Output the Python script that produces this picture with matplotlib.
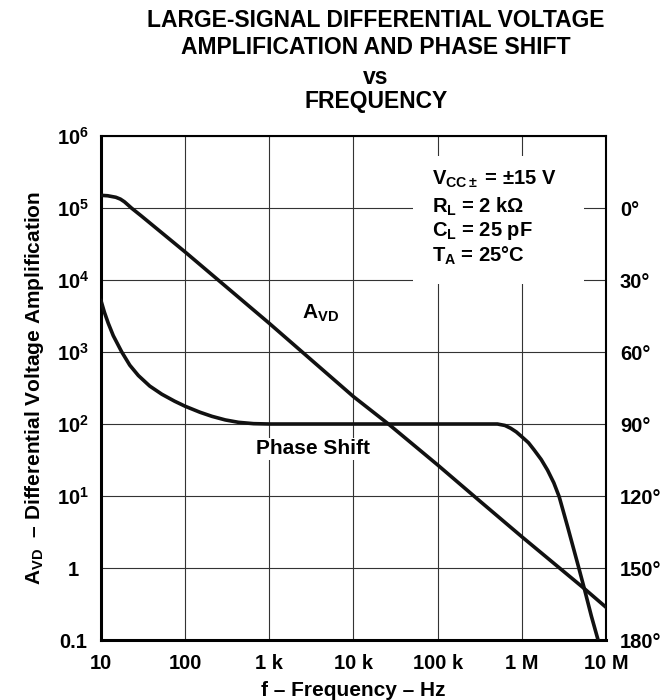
import matplotlib
matplotlib.use("Agg")
import matplotlib.pyplot as plt
from matplotlib.patches import Rectangle

plt.rcParams['font.family'] = ['Liberation Sans', 'DejaVu Sans']
plt.rcParams['font.weight'] = 'bold'
plt.rcParams['axes.labelweight'] = 'bold'
plt.rcParams['mathtext.fontset'] = 'custom'
plt.rcParams['mathtext.rm'] = 'Liberation Sans:bold'
plt.rcParams['mathtext.it'] = 'Liberation Sans:bold'
plt.rcParams['mathtext.bf'] = 'Liberation Sans:bold'

# gain curve (A_VD)
avd_freq = [10, 12, 15, 17, 19, 21, 23, 30, 100, 1e3, 1e4, 2.6e4, 1e5, 3.25e5, 1e6, 5.5e6, 1e7]
avd_gain = [1.5e5, 1.48e5, 1.41e5, 1.33e5, 1.22e5, 1.1e5, 1.0e5, 7.8e4, 2.45e4, 2.5e3,
            2.4e2, 1e2, 27, 8.3, 2.72, 0.52, 0.285]

# phase shift curve, degrees (right axis)
ph_freq = [10, 11, 12.2, 14, 17.6, 22, 27.8, 38, 52.9, 75, 100, 150, 208, 300, 431, 650, 1e3,
           5.13e5, 6.3e5, 7.4e5, 8.6e5, 1e6, 1.2e6, 1.4e6, 1.7e6, 2.02e6, 2.4e6, 2.78e6,
           3.1e6, 3.5e6, 4.6e6, 5.52e6, 6.7e6, 8.1e6]
ph_deg = [38.6, 43.5, 48.0, 53.2, 59.9, 65.5, 69.8, 74.2, 77.6, 80.5, 82.6, 85.1, 86.8, 88.3,
          89.3, 89.85, 90, 90, 90.6, 91.8, 93.3, 95.3, 97.8, 100.8, 104.8, 109.2, 114.5, 120.3,
          126.2, 132.8, 148.1, 158.5, 170.0, 180.3]

x_ticks = [10, 100, 1e3, 1e4, 1e5, 1e6, 1e7]
x_labels = ['10', '100', '1 k', '10 k', '100 k', '1 M', '10 M']
y_ticks = [0.1, 1, 10, 100, 1e3, 1e4, 1e5, 1e6]
y_labels = ['0.1', '1', r'$10^{1}$', r'$10^{2}$', r'$10^{3}$', r'$10^{4}$', r'$10^{5}$', r'$10^{6}$']
ph_ticks = [0, 30, 60, 90, 120, 150, 180]
ph_labels = ['0°', '30°', '60°', '90°', '120°', '150°', '180°']

conditions = [r'V$_{CC\pm}$ = ±15 V', r'R$_{L}$ = 2 kΩ', r'C$_{L}$ = 25 pF', r'T$_{A}$ = 25°C']

fig = plt.figure(figsize=(6.63, 7.0), dpi=100)
ax = fig.add_axes([0.1523, 0.0857, 0.7617, 0.72])

ax.set_xscale('log')
ax.set_yscale('log')
ax.set_xlim(10, 1e7)
ax.set_ylim(0.1, 1e6)
ax.set_xticks(x_ticks)
ax.set_xticklabels(x_labels)
ax.set_yticks(y_ticks)
ax.set_yticklabels(y_labels)
ax.minorticks_off()
ax.tick_params(axis='both', length=0, labelsize=14.5)
ax.tick_params(axis='x', pad=10)
ax.tick_params(axis='y', pad=20)
for lab in ax.get_yticklabels():
    lab.set_horizontalalignment('center')

ax.grid(True, color='#333333', lw=0.8)
ax.set_axisbelow(True)

for side in ['left', 'bottom']:
    ax.spines[side].set_linewidth(2.2)
for side in ['top', 'right']:
    ax.spines[side].set_linewidth(1.5)

# white area behind the test conditions
ax.add_patch(Rectangle((0.618, 0.706), 0.338, 0.254, transform=ax.transAxes,
                       facecolor='white', edgecolor='none', zorder=1))

ax.plot(avd_freq, avd_gain, color='#111111', lw=2.6, zorder=3, solid_joinstyle='round')

ax2 = ax.twinx()
ax2.set_ylim(180, -30)
ax2.set_yticks(ph_ticks)
ax2.set_yticklabels(ph_labels)
ax2.tick_params(axis='y', length=0, labelsize=14.5, pad=10)
for s in ax2.spines.values():
    s.set_visible(False)
ax2.plot(ph_freq, ph_deg, color='#111111', lw=2.6, zorder=3, solid_joinstyle='round')
ax2.set_xlim(10, 1e7)

ax.text(0.434, 0.649, r'A$_{VD}$', transform=ax.transAxes, ha='center', va='center',
        fontsize=15, zorder=4)
ax.text(0.42, 0.379, 'Phase Shift', transform=ax.transAxes, ha='center', va='center',
        fontsize=15, zorder=4,
        bbox=dict(facecolor='white', edgecolor='none', pad=1))

cond_y = [0.903, 0.847, 0.802, 0.75]
for txt, yy in zip(conditions, cond_y):
    ax.text(0.655, yy, txt, transform=ax.transAxes, ha='left', va='baseline',
            fontsize=14.5, zorder=4)

ax.set_xlabel('f – Frequency – Hz', fontsize=15, labelpad=6)
ax.set_ylabel(r'A$_{VD}$  – Differential Voltage Amplification', fontsize=15, labelpad=8)

fig.text(0.567, 0.971, 'LARGE-SIGNAL DIFFERENTIAL VOLTAGE', ha='center', va='center', fontsize=16.5)
fig.text(0.567, 0.932, 'AMPLIFICATION AND PHASE SHIFT', ha='center', va='center', fontsize=16.5)
fig.text(0.567, 0.889, 'vs', ha='center', va='center', fontsize=16.5)
fig.text(0.567, 0.855, 'FREQUENCY', ha='center', va='center', fontsize=16.5)

fig.savefig('out.png', dpi=100)
